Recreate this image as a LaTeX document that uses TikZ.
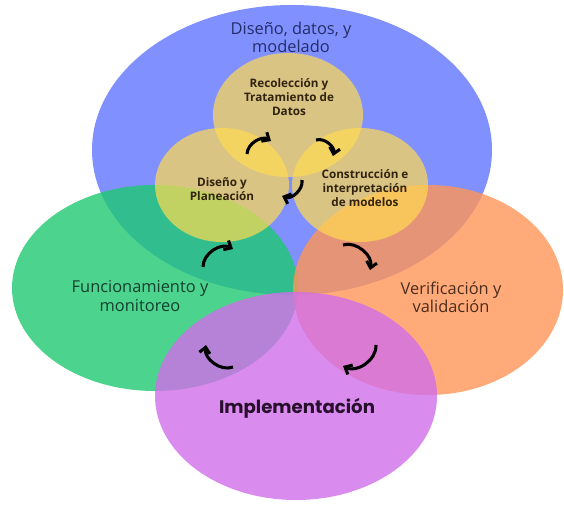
\documentclass[tikz,border=0pt]{standalone}
\usepackage{fontspec}
\setmainfont{Open Sans}
\newfontfamily\boldlabel{Poppins}
\usetikzlibrary{arrows.meta}

\definecolor{bluec}{RGB}{128,145,255}
\definecolor{greenc}{RGB}{31,200,114}
\definecolor{orangec}{RGB}{255,149,86}
\definecolor{purplec}{RGB}{209,111,234}
\definecolor{yellowc}{RGB}{255,219,81}
\definecolor{navytext}{RGB}{35,45,105}
\definecolor{greentext}{RGB}{20,65,45}
\definecolor{browntext}{RGB}{75,45,30}
\definecolor{darktext}{RGB}{50,35,15}
\definecolor{purpletext}{RGB}{40,15,45}

\tikzset{
  phase/.style={fill opacity=0.8},
  inner/.style={fill opacity=0.7},
  bigtext/.style={align=center, font=\fontsize{14}{15.5}\selectfont},
  smalltext/.style={align=center, font=\bfseries\fontsize{10}{11.9}\selectfont, text=darktext},
  cyc/.style={line width=2.6pt, -{Straight Barb[length=5pt,width=9pt]}, bend left=60}
}

\begin{document}
\begin{tikzpicture}[x=0.03cm, y=-0.03cm]
\useasboundingbox (0,0) rectangle (564,508);
%Outer phases
\fill[bluec] (292,150) ellipse [x radius=200, y radius=145];
\fill[greenc, phase] (155,288) ellipse [x radius=143, y radius=103];
\fill[orangec, phase] (428,290) ellipse [x radius=135, y radius=105];
\fill[purplec, phase] (296,396) ellipse [x radius=141, y radius=104];
%Inner cycle
\fill[yellowc, inner] (288,115) ellipse [x radius=75, y radius=62];
\fill[yellowc, inner] (222,185) ellipse [x radius=67, y radius=57];
\fill[yellowc, inner] (360,185) ellipse [x radius=68, y radius=57];
%Labels
\node[bigtext, text=navytext] (disenio) at (291,37) {Diseño, datos, y\\modelado};
\node[bigtext, text=greentext] (funcion) at (140,296) {Funcionamiento y\\monitoreo};
\node[bigtext, text=browntext] (verif) at (451,297) {Verificación y\\validación};
\node[font=\boldlabel\bfseries\fontsize{15.5}{17}\selectfont, text=purpletext] (implem) at (297,408) {Implementación};
\node[smalltext] (recol) at (289,97) {Recolección y\\Tratamiento de\\Datos};
\node[smalltext] (planea) at (222,189) {Diseño y\\Planeación};
\node[smalltext] (constr) at (365,188) {Construcción e\\interpretación\\de modelos};
%Arrows
\draw[cyc] (247,154) to (271,141);
\draw[cyc] (316,140) to (333,156);
\draw[cyc] (302,180) to (282,196);
\draw[cyc] (203,267) to (233,249);
\draw[cyc] (343,245) to (370,270);
\draw[cyc] (376,345) to (343,366);
\draw[cyc] (233,367) to (206,345);
\end{tikzpicture}
\end{document}
